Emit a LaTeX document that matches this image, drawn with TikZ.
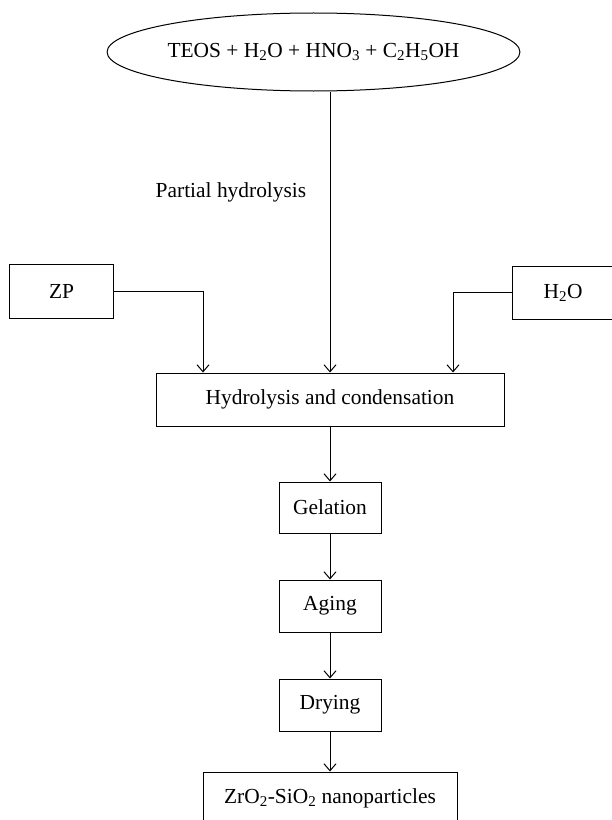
\documentclass[tikz,border=0pt]{standalone}
\usepackage{fontspec}
\setmainfont{Liberation Serif}
\usetikzlibrary{shapes.geometric,arrows.meta}

\begin{document}
\begin{tikzpicture}[x=1bp,y=-1bp,
    every node/.style={font=\fontsize{21.5}{25}\selectfont},
    stepbox/.style={draw,line width=1bp,inner sep=0pt},
    flow/.style={line width=1bp,-{Straight Barb[length=7bp,width=12bp,line width=1bp]}},
    ]
\useasboundingbox (0,0) rectangle (612,820);

%-------------------------------------------- Starting solution
\node[draw,ellipse,line width=1bp,minimum width=411bp,minimum height=78bp,inner sep=0pt]
     (sol) at (313.5,52) {TEOS + H\textsubscript{2}O + HNO\textsubscript{3} + C\textsubscript{2}H\textsubscript{5}OH};
\node (partial) at (231,192) {Partial hydrolysis};

%-------------------------------------------- Side inputs
\node[stepbox,minimum width=103bp,minimum height=54bp] (zp) at (61.5,291) {ZP};
\node[stepbox,minimum width=102bp,minimum height=53bp] (water) at (563,292.5) {H\textsubscript{2}O};

%-------------------------------------------- Process steps
\node[stepbox,minimum width=348bp,minimum height=53bp] (hyd) at (330,399.5) {Hydrolysis and condensation};
\node[stepbox,minimum width=102bp,minimum height=51bp] (gel) at (330,507.5) {Gelation};
\node[stepbox,minimum width=102bp,minimum height=52bp] (aging) at (330,606) {Aging};
\node[stepbox,minimum width=102bp,minimum height=52bp] (dry) at (330,705) {Drying};
\node[stepbox,minimum width=254bp,minimum height=52bp] (prod) at (330,798) {ZrO\textsubscript{2}-SiO\textsubscript{2} nanoparticles};

%-------------------------------------------- Connectors
\draw[flow] (sol.south -| hyd.north) -- (hyd.north);
\draw[flow] (zp.east) -| (203,0 |- hyd.north);
\draw[flow] (water.west) -| (453,0 |- hyd.north);
\draw[flow] (hyd) -- (gel);
\draw[flow] (gel) -- (aging);
\draw[flow] (aging) -- (dry);
\draw[flow] (dry) -- (prod);

\end{tikzpicture}
\end{document}
